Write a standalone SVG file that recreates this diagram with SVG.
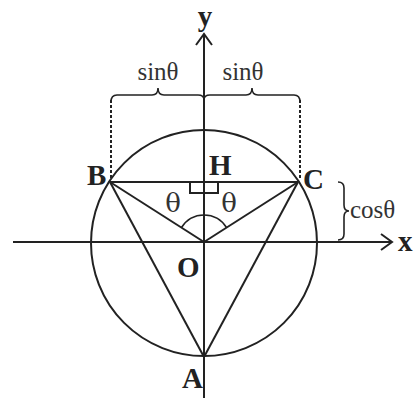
<svg xmlns="http://www.w3.org/2000/svg" width="417" height="398" viewBox="0 0 417 398">
<style>
.ln{stroke:#222;stroke-width:2;fill:none}
.th{stroke:#222;stroke-width:1.6;fill:none}
.lb{font-family:"Liberation Serif",serif;font-weight:bold;font-size:29px;fill:#222}
.tx{font-family:"Liberation Serif",serif;font-size:25px;fill:#333}
.tg{font-family:"DejaVu Serif","Liberation Serif",serif;font-size:26px;fill:#333}
.dt{stroke:#222;stroke-width:2;stroke-dasharray:3 2;fill:none}
</style>
<rect width="417" height="398" fill="#fff"/>
<g id="connectors">
<line class="ln" x1="13" y1="242" x2="392" y2="242"/>
<polyline class="ln" points="381,234 392,242 381,250"/>
<line class="ln" x1="204" y1="34" x2="204" y2="398"/>
<polyline class="ln" points="196,45 204,34 212,45"/>
<circle class="ln" cx="204" cy="243" r="113"/>
<line class="ln" x1="110" y1="182" x2="298" y2="182"/>
<line class="ln" x1="110" y1="182" x2="204" y2="357"/>
<line class="ln" x1="298" y1="182" x2="204" y2="357"/>
<line class="ln" x1="110" y1="182" x2="204" y2="242"/>
<line class="ln" x1="298" y1="182" x2="204" y2="242"/>
<rect class="ln" x="190" y="182" width="28" height="11"/>
<path class="th" d="M181.5,227.5 A27,27 0 0 1 204,215 A27,27 0 0 1 226.5,227.5"/>
<line class="dt" x1="111" y1="100" x2="111" y2="180"/>
<line class="dt" x1="300" y1="100" x2="300" y2="180"/>
<path class="th" d="M111,102 Q111,95 117,95 L152,95 Q158,95 158,88 Q158,95 164,95 L198,95 Q204,95 204,100"/>
<path class="th" d="M204,100 Q204,95 210,95 L246,95 Q252,95 252,88 Q252,95 258,95 L294,95 Q300,95 300,102"/>
<path class="th" d="M338,182 Q344,182 344,188 L344,205 Q344,211 349,211 Q344,211 344,217 L344,234 Q344,240 338,240"/>
</g>
<g id="labels">
<text class="lb" x="398" y="251" font-size="25">x</text>
<text class="lb" x="205" y="26" text-anchor="middle" font-size="27">y</text>
<text class="lb" x="87" y="185">B</text>
<text class="lb" x="303" y="189">C</text>
<text class="lb" x="209" y="175">H</text>
<text class="lb" x="177" y="277">O</text>
<text class="lb" x="182" y="388">A</text>
<text class="tg" x="173" y="212" text-anchor="middle">θ</text>
<text class="tg" x="229" y="212" text-anchor="middle">θ</text>
<text class="tx" x="158" y="80" text-anchor="middle">sinθ</text>
<text class="tx" x="243" y="80" text-anchor="middle">sinθ</text>
<text class="tx" x="350" y="218">cosθ</text>
</g>
</svg>
